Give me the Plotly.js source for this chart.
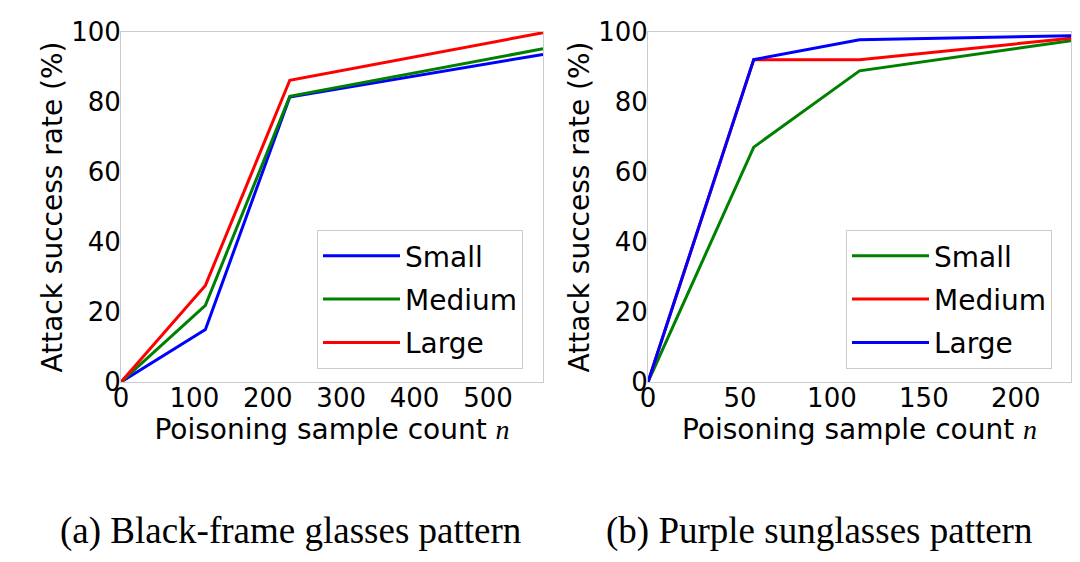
<!DOCTYPE html>
<html>
<head>
<meta charset="utf-8">
<script src="https://cdn.plot.ly/plotly-3.0.1.min.js"></script>
<style>
html, body { margin: 0; padding: 0; background: #ffffff; }
#chart { width: 1080px; height: 562px; }
</style>
</head>
<body>
<div id="chart"></div>
<script>
// ---- Data ----
var seriesNames = ["Small", "Medium", "Large"];

// (a) Black-frame glasses pattern
var countsA = [0, 115, 230, 575];
var smallA  = [0, 15.0, 81.4, 93.6];
var mediumA = [0, 21.9, 81.6, 95.2];
var largeA  = [0, 27.6, 86.2, 99.8];

// (b) Purple sunglasses pattern
var countsB = [0, 57.5, 115, 230];
var smallB  = [0, 67.1, 88.9, 97.5];
var mediumB = [0, 92.1, 92.1, 98.2];
var largeB  = [0, 92.1, 97.8, 98.9];

var yTicks = [0, 20, 40, 60, 80, 100];
var xTicksA = [0, 100, 200, 300, 400, 500];
var xTicksB = [0, 50, 100, 150, 200];

var captionA = "(a) Black-frame glasses pattern";
var captionB = "(b) Purple sunglasses pattern";
var yTitle = "Attack success rate (%)";
var xTitle = "Poisoning sample count <span style=\"font-family:'Liberation Serif'\"><i>n</i></span>";

// ---- Styles ----
var BLUE = "#0000ff", GREEN = "#008000", RED = "#ff0000";
var FONT = "DejaVu Sans";
var LW = 3;

function tr(x, y, name, color, xa, ya, lg, grp) {
  return {
    x: x, y: y, name: name, type: "scatter", mode: "lines",
    line: {color: color, width: LW},
    xaxis: xa, yaxis: ya, legend: lg, legendgroup: grp, hoverinfo: "skip"
  };
}

var data = [
  tr(countsA, smallA,  seriesNames[0], BLUE,  "x",  "y",  "legend",  "a1"),
  tr(countsA, mediumA, seriesNames[1], GREEN, "x",  "y",  "legend",  "a2"),
  tr(countsA, largeA,  seriesNames[2], RED,   "x",  "y",  "legend",  "a3"),
  tr(countsB, smallB,  seriesNames[0], GREEN, "x2", "y2", "legend2", "b1"),
  tr(countsB, mediumB, seriesNames[1], RED,   "x2", "y2", "legend2", "b2"),
  tr(countsB, largeB,  seriesNames[2], BLUE,  "x2", "y2", "legend2", "b3")
];

var W = 1080, H = 562;
function px(x) { return x / W; }
function py(y) { return 1 - y / H; }

var axisCommon = {
  showline: true, linecolor: "#cccccc", linewidth: 1, mirror: true,
  showgrid: false, zeroline: false, ticks: "",
  tickfont: {family: FONT, size: 26, color: "#000000"},
  fixedrange: true
};

function xaxis(domain, range, ticks, anchor) {
  return Object.assign({}, axisCommon, {
    domain: domain, range: range, anchor: anchor,
    tickmode: "array", tickvals: ticks, ticktext: ticks.map(String),
    ticklabelstandoff: -7,
    title: {text: xTitle, font: {family: FONT, size: 28, color: "#000000"}, standoff: 0}
  });
}
function yaxis(domain, anchor) {
  return Object.assign({}, axisCommon, {
    domain: domain, range: [0, 100], anchor: anchor,
    tickmode: "array", tickvals: yTicks, ticktext: yTicks.map(String),
    ticklabelstandoff: -6,
    title: {text: yTitle, font: {family: FONT, size: 28, color: "#000000"}, standoff: 0}
  });
}

var yDom = [py(382), py(32)];

var legendCommon = {
  bgcolor: "#ffffff", bordercolor: "#cccccc", borderwidth: 1,
  font: {family: FONT, size: 28, color: "#000000"},
  xanchor: "left", yanchor: "top", itemwidth: 77,
  tracegroupgap: 4
};

var layout = {
  width: W, height: H,
  margin: {l: 0, r: 0, t: 0, b: 0},
  paper_bgcolor: "#ffffff", plot_bgcolor: "#ffffff",
  showlegend: true,
  xaxis: xaxis([px(121), px(543)], [0, 575], xTicksA, "y"),
  yaxis: yaxis(yDom, "x"),
  xaxis2: xaxis([px(648), px(1071)], [0, 230], xTicksB, "y2"),
  yaxis2: yaxis(yDom, "x2"),
  legend: Object.assign({}, legendCommon, {x: px(317), y: py(230)}),
  legend2: Object.assign({}, legendCommon, {x: px(846), y: py(230)}),
  annotations: [
    {text: captionA, xref: "paper", yref: "paper", x: px(290), y: py(531),
     xanchor: "center", yanchor: "middle", showarrow: false,
     font: {family: "Liberation Serif", size: 37, color: "#000000"}},
    {text: captionB, xref: "paper", yref: "paper", x: px(819), y: py(531),
     xanchor: "center", yanchor: "middle", showarrow: false,
     font: {family: "Liberation Serif", size: 37, color: "#000000"}}
  ]
};

Plotly.newPlot("chart", data, layout, {staticPlot: true, displayModeBar: false});
</script>
</body>
</html>
